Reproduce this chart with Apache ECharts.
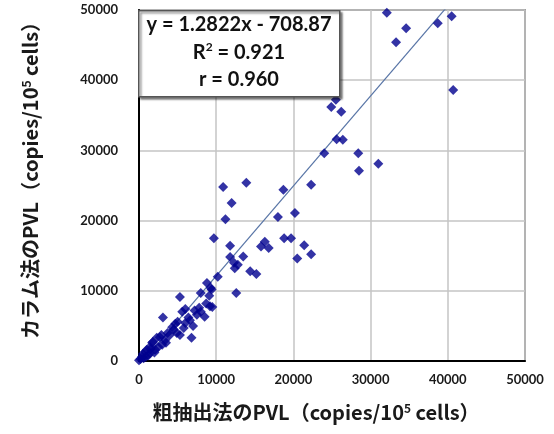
<!DOCTYPE html>
<html><head><meta charset="utf-8">
<script src="https://cdn.jsdelivr.net/npm/echarts@6/dist/echarts.min.js"></script>
<style>html,body{margin:0;padding:0;background:#fff}#c{width:554px;height:434px}</style>
</head><body><div id="c"></div>
<script>
// data: [粗抽出法, カラム法]
var xValues = [32100,34600,33300,38700,40500,40700,25500,24900,26200,25600,26400,24000,28400,28500,31000,22300,18700,
10900,13900,12000,11200,18000,20200,9700,11800,18800,19700,16300,15800,16800,21400,20500,22300,11800,13500,12300,12800,12400,14400,15200,10200,8800,9300,8000,9100,5300,12600,
9200,9500,5600,6000,3100,8000,7500,8500,6600,6000,4700,4900,7000,6800,5300,4000,3400,2300,1800,3000,1400,1000,2100,500,400,0,900,1400,4300,5800,2700,1700,200,600,1200,2500,3500,2000,7200,7800,6400,5000,3700,4500,2900,8700,9400,1500,800];
var yValues = [49600,47400,45400,48100,49100,38600,37200,36200,35500,31600,31500,29600,29600,27100,28100,25100,24400,
24800,25400,22500,20200,20500,21100,17500,16400,17500,17500,17000,16300,16100,16500,14600,15200,14800,14900,14000,13700,13200,12800,12400,12000,11100,10400,9700,9300,9100,9700,
7800,7700,7000,7400,6200,7000,6600,6300,5800,5400,5300,4000,5000,3300,3700,3700,3000,3300,2700,2300,2000,1600,1600,1000,600,100,600,1100,4800,4700,3400,2600,300,400,800,2000,2600,1200,7200,7600,6200,5600,4000,4500,3700,8200,10200,1700,1300];
var trendSlope = 1.2822, trendIntercept = -708.87;
var eqLines = ['y = 1.2822x - 708.87', 'R{sup|2} = 0.921', 'r = 0.960'];
var xAxisTitle = '粗抽出法のPVL（copies/10{sup|5} cells）';
var yAxisTitle = 'カラム法のPVL（copies/10{sup|5} cells）';
var axisMin = 0, axisMax = 50000, axisStep = 10000;

var pts = xValues.map(function(x,i){return [x, yValues[i]];});
var xmin = Math.min.apply(null, xValues), xmax = Math.max.apply(null, xValues);
var trend = [[xmin, trendSlope*xmin+trendIntercept],[xmax, trendSlope*xmax+trendIntercept]];

var chart = echarts.init(document.getElementById('c'), null, {renderer:'canvas'});
var tickFont = {fontFamily:'Lato', fontWeight:'bold', fontSize:13, color:'#1a1a1a'};
var titleRich = {sup:{fontFamily:'Noto Sans CJK JP', fontWeight:'bold', fontSize:12, color:'#1a1a1a', verticalAlign:'top', lineHeight:20}};
chart.setOption({
  animation:false,
  grid:{left:139, right:29, top:10, bottom:73, show:true, borderColor:'#555', borderWidth:1.5},
  xAxis:{type:'value', min:axisMin, max:axisMax, interval:axisStep,
    name: xAxisTitle, nameLocation:'middle', nameGap:41,
    nameTextStyle:{fontFamily:'Noto Sans CJK JP', fontWeight:'bold', fontSize:20, color:'#1a1a1a', padding:[0,32,0,0], rich:titleRich},
    axisLine:{show:true, onZero:false, lineStyle:{color:'#000', width:2}},
    axisTick:{show:false},
    splitLine:{show:true, lineStyle:{color:'#c4c4c4', width:1.5}},
    axisLabel:Object.assign({margin:12, formatter:function(v){return String(v);}}, tickFont)},
  yAxis:{type:'value', min:axisMin, max:axisMax, interval:axisStep,
    name: yAxisTitle, nameLocation:'middle', nameGap:99, nameRotate:90,
    nameTextStyle:{fontFamily:'Noto Sans CJK JP', fontWeight:'bold', fontSize:20, color:'#1a1a1a', padding:[0,0,0,20], rich:titleRich},
    axisLine:{show:true, onZero:false, lineStyle:{color:'#000', width:2}},
    axisTick:{show:false},
    splitLine:{show:true, lineStyle:{color:'#c4c4c4', width:1.5}},
    axisLabel:Object.assign({margin:21, formatter:function(v){return String(v);}}, tickFont)},
  series:[
    {type:'line', data:trend, symbol:'none', clip:true, lineStyle:{color:'#5875a6', width:1.2}, z:2, silent:true},
    {type:'scatter', data:pts, symbol:'diamond', symbolSize:10, itemStyle:{color:'#00008f'}, z:3}
  ],
  graphic:[
    {type:'rect', left:138, top:10, shape:{width:201, height:86}, z:10,
      style:{fill:'#fff', stroke:'#555', lineWidth:1.5, shadowColor:'rgba(0,0,0,0.45)', shadowOffsetX:2, shadowOffsetY:2, shadowBlur:2}}
  ].concat(eqLines.map(function(t,i){
    return {type:'text', z:11, x:239, y:25 + i*27.5,
      style:{text:t, align:'center', verticalAlign:'middle', fontFamily:'Lato', fontWeight:'bold', fontSize:20, fill:'#111',
        rich:{sup:{fontFamily:'Lato', fontWeight:'bold', fontSize:12, fill:'#111', verticalAlign:'top', lineHeight:22}}}};
  }))
});
</script></body></html>
